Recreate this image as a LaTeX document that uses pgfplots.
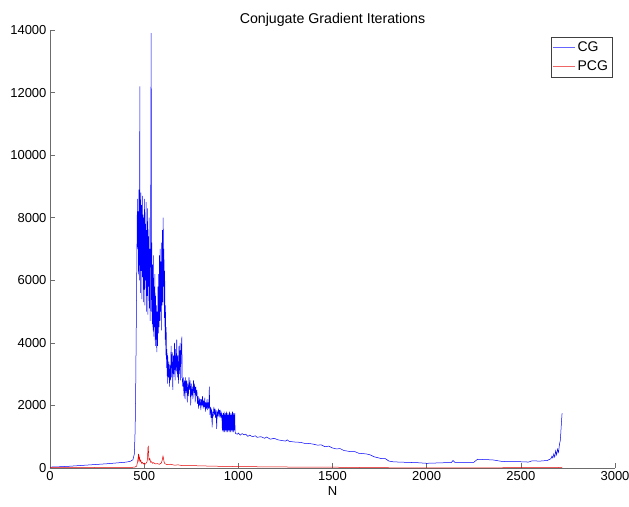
\documentclass[border=0pt]{standalone}
\usepackage{pgfplots}
\pgfplotsset{compat=1.18}
\usepackage{fontspec}
\setmainfont{Liberation Sans}
\begin{document}
\begin{tikzpicture}[x=1pt,y=1pt]
\begin{axis}[
  name=ax,
  scale only axis,
  width=565pt, height=438pt,
  xmin=0, xmax=3000, ymin=0, ymax=14000,
  xtick={0,500,...,3000},
  ytick={0,2000,...,14000},
  scaled ticks=false,
  /pgf/number format/1000 sep={},
  /pgf/number format/assume math mode=true,
  axis x line*=bottom, axis y line*=left,
  axis line style={draw=gray!85!black, line width=0.6pt},
  tick style={draw=gray!85!black, line width=0.6pt},
  tick align=inside,
  major tick length=5pt,
  ticklabel style={font=\fontsize{13}{14}\selectfont},
  xlabel={N},
  xlabel style={font=\fontsize{13}{14}\selectfont, yshift=1pt},
  title={Conjugate Gradient Iterations},
  title style={font=\fontsize{14.2}{16}\selectfont, yshift=-6pt},
  legend style={at={(0.995,0.985)}, anchor=north east, draw=black!75, line width=0.5pt,
    font=\fontsize{14}{16}\selectfont, inner xsep=2pt, inner ysep=3pt, row sep=4pt},
  legend cell align=left,
  legend image code/.code={\draw[#1] (0pt,0pt) -- (22pt,0pt);},
  legend image post style={line width=0.5pt, opacity=0.6},
]
\addplot[color=blue, line width=0.5pt] coordinates {
(1,30) (25,35) (50,40) (100,55) (150,75) (200,95) (250,115) (300,135) (350,160) (400,185) (425,210) (440,260) (448,450) (452,1200) (455,2500) (458,4500) (461,6500) (464,8600) (466,7000) (468,8200) (470,6200) (472,8900) (474,6000) (476,9000) (477,12200) (478,7800) (480,5600) (482,8800) (484,6300) (486,8400) (488,5400) (490,8700) (492,6100) (494,8100) (496,5300) (498,8000) (500,5700) (502,8600) (504,5200) (506,7800) (508,6000) (510,8500) (512,5000) (514,7600) (516,5500) (518,8300) (520,4900) (522,7400) (524,5800) (526,8000) (528,5100) (530,7000) (532,4700) (534,6800) (536,11500) (537,13900) (538,11000) (539,5000) (541,7200) (543,4600) (545,6500) (547,4400) (549,6800) (551,4200) (553,5800) (555,4500) (557,6200) (559,3900) (561,5500) (563,4100) (565,5200) (567,3700) (569,5000) (571,3900) (573,5800) (575,4300) (577,6200) (579,4500) (581,6800) (583,4700) (585,7000) (587,5000) (589,6600) (591,4400) (593,7200) (595,5200) (597,7600) (599,5300) (601,8000) (603,5800) (605,7000) (607,4800) (609,6300) (611,4100) (613,5200) (615,3600) (617,4500) (619,3200) (621,3800) (623,2700) (625,3600) (628,2900) (631,3400) (634,2600) (637,3300) (640,2800) (643,3900) (646,2900) (649,3700) (652,2500) (655,3600) (658,3000) (661,4000) (664,2800) (667,3800) (670,3100) (673,4100) (676,2900) (679,3600) (682,2700) (685,3900) (688,3000) (691,4000) (694,2800) (697,3800) (700,4200) (702,2900) (705,2600) (708,2900) (711,2300) (714,2800) (717,2200) (720,2900) (723,2400) (726,2800) (729,2100) (732,2700) (735,2300) (738,2900) (741,2500) (744,2800) (747,2000) (750,2700) (753,2300) (756,2600) (759,2200) (762,2800) (765,2400) (768,2700) (771,2100) (774,2600) (777,2300) (780,2500) (783,2050) (786,2300) (789,1900) (792,2250) (795,2000) (798,2200) (801,1850) (804,2200) (807,2000) (810,2300) (813,1900) (816,2150) (819,1950) (822,2250) (825,1800) (828,2100) (831,1900) (834,2200) (837,1850) (840,2100) (843,1900) (846,2600) (849,1700) (852,1950) (855,1600) (858,1900) (861,1300) (864,1800) (867,1650) (870,1950) (873,1700) (876,1900) (879,1600) (882,1850) (885,1250) (888,1800) (891,1650) (894,1900) (897,1700) (900,1850) (903,1600) (906,1800) (909,1650) (912,1750) (915,1200) (917,1700) (919,1150) (921,1750) (923,1200) (925,1800) (927,1150) (929,1700) (931,1200) (933,1750) (935,1150) (937,1800) (939,1200) (941,1700) (943,1150) (945,1750) (947,1200) (949,1700) (951,1150) (953,1800) (955,1200) (957,1700) (959,1150) (961,1750) (963,1200) (965,1700) (967,1150) (969,1800) (971,1200) (973,1750) (975,1150) (977,1700) (979,1200) (981,1750) (983,1150) (986,1100) (995,1080) (1000,1120) (1010,1050) (1020,1100) (1030,1060) (1040,1080) (1050,1010) (1060,1050) (1075,1000) (1090,1030) (1100,980) (1120,1000) (1140,950) (1150,990) (1170,920) (1190,950) (1210,900) (1230,880) (1250,860) (1260,900) (1270,850) (1300,830) (1330,820) (1350,790) (1380,780) (1400,760) (1420,730) (1440,740) (1460,680) (1480,700) (1500,640) (1520,610) (1540,620) (1560,560) (1580,540) (1600,520) (1620,520) (1640,470) (1660,460) (1680,450) (1700,420) (1720,360) (1740,330) (1760,300) (1780,300) (1800,220) (1820,200) (1850,190) (1900,180) (1950,170) (2000,150) (2050,160) (2100,170) (2130,170) (2140,240) (2150,180) (2200,180) (2250,180) (2270,280) (2300,270) (2350,260) (2380,230) (2400,210) (2450,200) (2500,200) (2540,190) (2560,230) (2600,220) (2640,240) (2660,300) (2665,380) (2670,320) (2675,450) (2680,350) (2685,550) (2690,420) (2695,600) (2700,500) (2705,750) (2710,900) (2713,1200) (2716,1500) (2719,1750)
};
\addlegendentry{CG}
\addplot[color=red!90!black, line width=0.5pt] coordinates {
(1,15) (100,15) (200,15) (300,18) (400,20) (450,25) (460,60) (465,200) (468,330) (470,450) (472,250) (475,350) (478,200) (482,250) (486,150) (490,180) (495,130) (500,160) (505,120) (510,150) (515,200) (518,300) (520,650) (522,680) (524,400) (526,250) (530,300) (535,180) (540,200) (545,150) (550,170) (560,130) (570,140) (580,120) (590,150) (596,250) (600,380) (603,300) (606,180) (610,140) (620,110) (640,120) (660,90) (680,100) (700,80) (750,75) (800,70) (850,60) (900,55) (950,50) (1000,45) (1100,40) (1200,35) (1300,30) (1400,28) (1500,25) (1600,22) (1650,15) (1700,10) (1800,8) (2000,8) (2200,8) (2400,8) (2600,10) (2700,15) (2720,25)
};
\addlegendentry{PCG}
\coordinate (bbsw) at (rel axis cs:0,0);
\coordinate (bbne) at (rel axis cs:1,1);
\end{axis}
\pgfresetboundingbox
\path ([xshift=-50pt,yshift=-38pt]bbsw) rectangle ([xshift=14pt,yshift=30pt]bbne);
\end{tikzpicture}
\end{document}
